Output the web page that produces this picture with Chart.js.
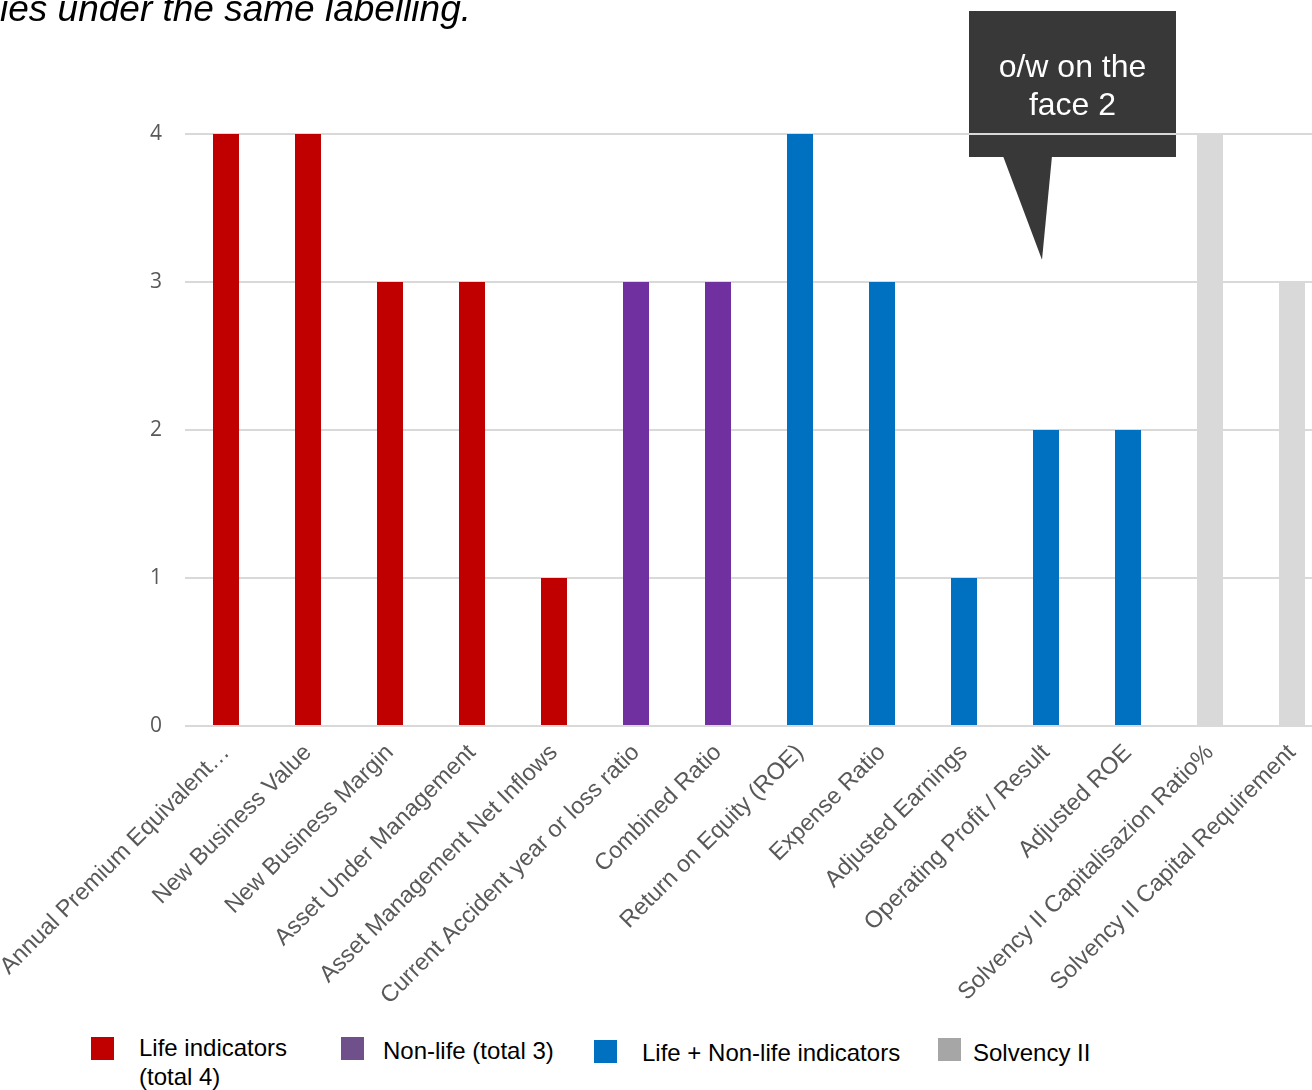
<!DOCTYPE html>
<html>
<head>
<meta charset="utf-8">
<script src="https://cdn.jsdelivr.net/npm/chart.js@4.4.1/dist/chart.umd.min.js"></script>
<style>
  html, body { margin: 0; padding: 0; background: #fff; overflow: hidden; }
  #wrap { position: relative; width: 1312px; height: 1090px; overflow: hidden; }
  #Chart { position: absolute; left: 0; top: 0; }
  .note { position: absolute; left: 0; top: -10px; font: italic 37px "Liberation Sans", Arial, sans-serif; line-height: 37px; color: #000; white-space: nowrap; }
  .key { position: absolute; font: 24px "Liberation Sans", Arial, sans-serif; line-height: 29px; color: #000; white-space: nowrap; }
  .sw { position: absolute; width: 23px; height: 23px; }
</style>
</head>
<body>
<div id="wrap">
  <canvas id="Chart" width="1340" height="1030"></canvas>
  <div class="note">ies under the same labelling.</div>
  <div id="legend"></div>
</div>
<script>
const categories = [
  "Annual Premium Equivalent…",
  "New Business Value",
  "New Business Margin",
  "Asset Under Management",
  "Asset Management Net Inflows",
  "Current Accident year or loss ratio",
  "Combined Ratio",
  "Return on Equity (ROE)",
  "Expense Ratio",
  "Adjusted Earnings",
  "Operating Profit / Result",
  "Adjusted ROE",
  "Solvency II Capitalisazion Ratio%",
  "Solvency II Capital Requirement"
];
const counts = [4, 4, 3, 3, 1, 3, 3, 4, 3, 1, 2, 2, 4, 3];
const groups = [0, 0, 0, 0, 0, 1, 1, 2, 2, 2, 2, 2, 3, 3];
const barColors = ["#C00000", "#7030A0", "#0070C0", "#D9D9D9"];
const legendLabels = ["Life indicators<br>(total 4)", "Non-life (total 3)", "Life + Non-life indicators", "Solvency II"];
const legendColors = ["#C00000", "#70508B", "#0070C0", "#A6A6A6"];
const yTicks = [0, 1, 2, 3, 4];
const calloutText = ["o/w on the", "face 2"];
const calloutIndex = 10;
const calloutValue = 3.15;

// legend boxes (html, wraps like the original)
const legendPos = [[91, 1037, 139, 1033], [341, 1037, 383, 1036], [594, 1040, 642, 1038], [938, 1038, 973, 1038]];
const legend = document.getElementById("legend");
for (var i = 0; i < legendLabels.length; i++) {
  const p = legendPos[i];
  legend.innerHTML +=
    '<div class="sw" style="left:' + p[0] + 'px;top:' + p[1] + 'px;background:' + legendColors[i] + '"></div>' +
    '<div class="key" style="left:' + p[2] + 'px;top:' + p[3] + 'px">' + legendLabels[i] + '</div>';
}

const callout = {
  id: "callout",
  beforeDraw(chart) {
    const ctx = chart.ctx;
    const xc = chart.scales.x.getPixelForValue(calloutIndex);
    const tipY = chart.scales.y.getPixelForValue(calloutValue);
    const left = xc - 77, right = xc + 130, top = 11, bottom = 157;
    ctx.save();
    ctx.fillStyle = "#383838";
    ctx.fillRect(left, top, right - left, bottom - top);
    ctx.beginPath();
    ctx.moveTo(xc - 43, bottom - 1);
    ctx.lineTo(xc + 6, bottom - 1);
    ctx.lineTo(xc - 4, tipY);
    ctx.closePath();
    ctx.fill();
    ctx.fillStyle = "#fff";
    ctx.font = '32px "Liberation Sans", Arial, sans-serif';
    ctx.textAlign = "center";
    ctx.textBaseline = "alphabetic";
    const cx = (left + right) / 2;
    ctx.fillText(calloutText[0], cx, 77);
    ctx.fillText(calloutText[1], cx, 115);
    ctx.restore();
  }
};

const ctx = document.getElementById("Chart").getContext("2d");
const myChart = new Chart(ctx, {
  type: "bar",
  data: {
    labels: categories,
    datasets: [
      {
        data: counts,
        backgroundColor: groups.map((g) => barColors[g]),
        borderWidth: 0,
        categoryPercentage: 1,
        barPercentage: 0.317
      }
    ]
  },
  options: {
    responsive: false,
    animation: false,
    layout: { padding: { top: 134, right: 7, left: 0, bottom: 0 } },
    plugins: { legend: { display: false }, tooltip: { enabled: false } },
    scales: {
      x: {
        grid: { display: false },
        border: { display: false },
        ticks: {
          autoSkip: false,
          minRotation: 45,
          maxRotation: 45,
          padding: 5,
          color: "#595959",
          font: { family: '"Liberation Sans", Arial, sans-serif', size: 23.5 }
        },
        afterFit: (scale) => {
          // the first label may run past the left edge, like the original
          scale.height = 1030 - 726;
          scale.paddingLeft = 0;
          scale.paddingRight = 0;
        }
      },
      y: {
        min: 0,
        max: 4,
        afterBuildTicks: (scale) => { scale.ticks = yTicks.map((v) => ({ value: v })); },
        grid: { color: "#D9D9D9", lineWidth: 2, drawTicks: false },
        border: { display: false },
        ticks: {
          padding: 23,
          color: "#595959",
          font: { family: '"Open Sans", sans-serif', size: 21 }
        },
        afterFit: (scale) => { scale.width = 185; }
      }
    }
  },
  plugins: [callout]
});
</script>
</body>
</html>
